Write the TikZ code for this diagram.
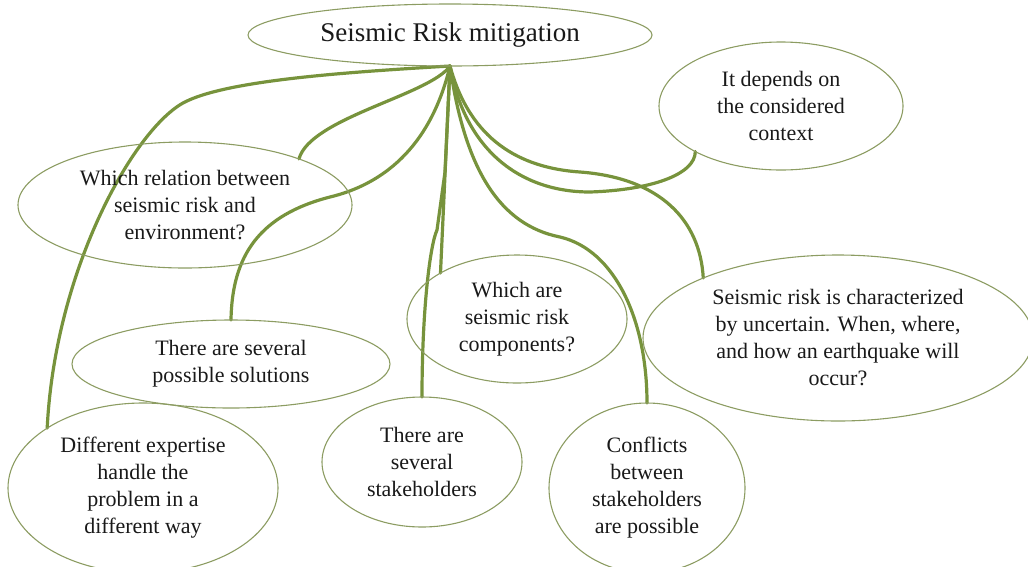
\documentclass[tikz,border=0pt]{standalone}
\usepackage{fontspec}
\setmainfont{Liberation Serif}
\usetikzlibrary{shapes.geometric,backgrounds}
\definecolor{linkgreen}{RGB}{119,147,60}
\definecolor{rimgreen}{RGB}{140,156,98}
\begin{document}
\begin{tikzpicture}[x=1pt,y=-1pt,
  bubble/.style={ellipse,draw=rimgreen,line width=1.1pt,inner sep=0pt,outer sep=0pt,
    align=center,font=\fontsize{22}{27}\selectfont,text=black!90},
  link/.style={draw=linkgreen,line width=3.2pt,line cap=round}]
\useasboundingbox (0,0) rectangle (1028,566);
\clip (0,0) rectangle (1028,566);

\node[bubble,minimum width=404pt,minimum height=62pt,font=\fontsize{27}{32}\selectfont] (title) at (450,35) {Seismic Risk mitigation};
\coordinate (hub) at (title.south);

\node[bubble,minimum width=244pt,minimum height=128pt] (ctx) at (781,106) {It depends on\\the considered\\context};
\node[bubble,minimum width=334pt,minimum height=126pt] (rel) at (185,205) {Which relation between\\seismic risk and\\environment?};
\node[bubble,minimum width=318pt,minimum height=88pt] (sol) at (231,364) {There are several\\possible solutions};
\node[bubble,minimum width=220pt,minimum height=128pt] (which) at (517,319) {Which are\\seismic risk\\components?};
\node[bubble,minimum width=390pt,minimum height=166pt] (seis) at (838,338) {Seismic risk is characterized\\by uncertain. When, where,\\and how an earthquake will\\occur?};
\node[bubble,minimum width=270pt,minimum height=170pt] (diff) at (143,488) {Different expertise\\handle the\\problem in a\\different way};
\node[bubble,minimum width=200pt,minimum height=130pt] (stake) at (422,462) {There are\\several\\stakeholders};
\node[bubble,minimum width=196pt,minimum height=170pt] (conf) at (647,488) {Conflicts\\between\\stakeholders\\are possible};

\begin{pgfonlayer}{background}
\draw[link] (hub) .. controls (350,72) and (225,80) .. (183,103) .. controls (133,131) and (55,270) .. (diff.148);
\draw[link] (hub) .. controls (430,95) and (310,118) .. (rel.22);
\draw[link] (hub) .. controls (430,150) and (380,185) .. (330,197) .. controls (260,215) and (232,255) .. (sol.90);
\draw[link] (hub) -- (which.149);
\draw[link] (hub) -- (445,172) -- (437,230) .. controls (430,245) and (422,310) .. (stake.90);
\draw[link] (hub) .. controls (465,170) and (500,225) .. (560,237) .. controls (615,250) and (647,320) .. (conf.90);
\draw[link] (hub) .. controls (470,140) and (520,168) .. (580,172) .. controls (660,178) and (700,220) .. (seis.156);
\draw[link] (hub) .. controls (465,150) and (520,192) .. (590,192) .. controls (650,190) and (695,175) .. (ctx.208);
\end{pgfonlayer}
\end{tikzpicture}
\end{document}
